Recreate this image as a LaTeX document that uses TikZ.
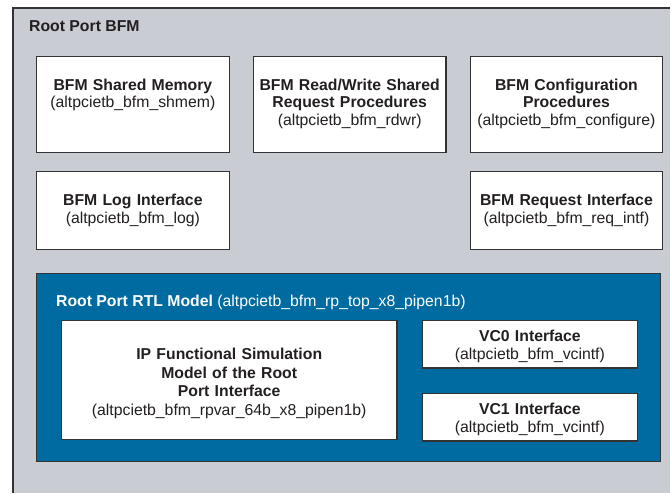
\documentclass[tikz,border=0pt]{standalone}
\usepackage{fontspec}
\setmainfont{Liberation Sans}
\usetikzlibrary{positioning}
\definecolor{bgOuter}{HTML}{C9CCD3}
\definecolor{bgModel}{HTML}{006BA0}
\definecolor{bgBox}{HTML}{FFFFFF}
\definecolor{borderMain}{HTML}{333335}
\definecolor{textMain}{HTML}{231F20}
\tikzset{
  bfmbox/.style={
    draw=borderMain, fill=bgBox, line width=1.1pt, inner sep=0pt,
    text width=193pt, align=center, text=textMain,
    font=\fontsize{15.8}{17.5}\selectfont,
  },
  toprow/.style={text height=34pt, text depth=62pt},
  lowrow/.style={minimum height=78pt},
  vcbox/.style={text width=216pt, text height=21.5pt, text depth=26.5pt},
  outerbox/.style={
    fill=bgOuter, inner sep=0pt, minimum width=658pt, minimum height=485pt,
  },
  modelbox/.style={
    draw=borderMain, fill=bgModel, line width=1.1pt, inner sep=0pt,
    minimum width=625pt, minimum height=189pt,
  },
  frametitle/.style={
    inner sep=0pt, font=\fontsize{15.8}{17.5}\selectfont\bfseries, text=textMain,
  },
  modeltitle/.style={
    inner sep=0pt, font=\fontsize{15.8}{17.5}\selectfont, text=white,
  },
  frameline/.style={draw=borderMain, line width=1.1pt},
}

\begin{document}
\begin{tikzpicture}[x=1pt, y=-1pt]

  \path[fill=white] (0,0) rectangle (671,493);

  % === Root Port BFM frame (runs off the page right and below) ===
  \node[outerbox, anchor=north west] (rootBfm) at (13,8) {};
  \draw[frameline] (rootBfm.south west) -- (rootBfm.north west) -- (rootBfm.north east);
  \node[frametitle, anchor=base west] (bfmTitle) at (29,31.7) {Root Port BFM};

  % === BFM procedure blocks (top row) ===
  \node[bfmbox, toprow, anchor=north west] (shmem) at (36,56)
    {\textbf{BFM Shared Memory}\\(altpcietb\_bfm\_shmem)};
  \node[bfmbox, toprow, right=23pt of shmem] (rdwr)
    {\textbf{BFM Read/Write Shared}\\\textbf{Request Procedures}\\(altpcietb\_bfm\_rdwr)};
  \node[bfmbox, toprow, right=23pt of rdwr] (configure)
    {\textbf{BFM Configuration}\\\textbf{Procedures}\\(altpcietb\_bfm\_configure)};

  % === Interfaces (second row) ===
  \node[bfmbox, lowrow, below=18pt of shmem] (log)
    {\textbf{BFM Log Interface}\\(altpcietb\_bfm\_log)};
  \node[bfmbox, lowrow, below=18pt of configure] (reqIntf)
    {\textbf{BFM Request Interface}\\(altpcietb\_bfm\_req\_intf)};

  % === Root Port RTL Model ===
  \node[modelbox, anchor=north west] (rtlModel) at (36,273) {};
  \node[modeltitle, anchor=base west] (rtlTitle) at (56,306.7)
    {\textbf{Root Port RTL Model} (altpcietb\_bfm\_rp\_top\_x8\_pipen1b)};

  \node[bfmbox, text width=336pt, text height=39pt, text depth=81pt,
    font=\fontsize{15.8}{19}\selectfont, anchor=north west] (rpvar) at (61,320)
    {\textbf{IP Functional Simulation}\\\textbf{Model of the Root}\\\textbf{Port Interface}\\(altpcietb\_bfm\_rpvar\_64b\_x8\_pipen1b)};
  \node[bfmbox, vcbox, right=24pt of rpvar.north east, anchor=north west] (vcZero)
    {\textbf{VC0 Interface}\\(altpcietb\_bfm\_vcintf)};
  \node[bfmbox, vcbox, below=24pt of vcZero] (vcOne)
    {\textbf{VC1 Interface}\\(altpcietb\_bfm\_vcintf)};

\end{tikzpicture}
\end{document}
